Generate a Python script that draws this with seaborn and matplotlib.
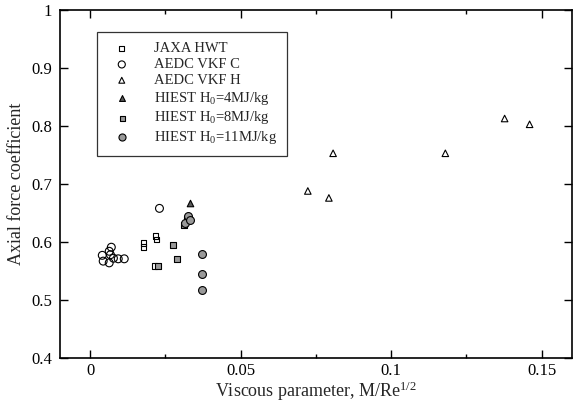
import matplotlib
matplotlib.use("Agg")
import matplotlib.pyplot as plt
import matplotlib.ticker as mticker
import seaborn as sns

# Wind-tunnel measurements: viscous parameter M/Re^(1/2) vs axial force coefficient
jaxa_x = [0.0177, 0.0177, 0.0217, 0.0220, 0.0213]
jaxa_y = [0.598, 0.591, 0.610, 0.604, 0.559]

vkf_c_x = [0.0040, 0.0043, 0.0063, 0.0067, 0.0070, 0.0063, 0.0077, 0.0093, 0.0113, 0.0230]
vkf_c_y = [0.577, 0.567, 0.564, 0.578, 0.591, 0.584, 0.572, 0.571, 0.571, 0.658]

vkf_h_x = [0.0723, 0.0793, 0.0807, 0.1180, 0.1377, 0.1460]
vkf_h_y = [0.688, 0.676, 0.753, 0.753, 0.813, 0.803]

hiest4_x = [0.0333]
hiest4_y = [0.668]

hiest8_x = [0.0225, 0.0275, 0.0287, 0.0310, 0.0322]
hiest8_y = [0.559, 0.595, 0.570, 0.630, 0.640]

hiest11_x = [0.0370, 0.0373, 0.0370, 0.0315, 0.0325, 0.0330]
hiest11_y = [0.579, 0.545, 0.517, 0.633, 0.645, 0.638]

labels = ["JAXA HWT", "AEDC VKF C", "AEDC VKF H",
          "HIEST H$_0$=4MJ/kg", "HIEST H$_0$=8MJ/kg", "HIEST H$_0$=11MJ/kg"]

sns.set_style("ticks")
plt.rcParams["font.family"] = ["Liberation Serif", "DejaVu Serif"]
plt.rcParams["mathtext.fontset"] = "custom"
plt.rcParams["mathtext.rm"] = "Liberation Serif"
plt.rcParams["mathtext.it"] = "Liberation Serif:italic"

fig = plt.figure(figsize=(5.84, 4.04), dpi=100)
ax = fig.add_axes([0.103, 0.114, 0.876, 0.861])

common = dict(ax=ax, linewidth=0.8, edgecolor="black", legend=True)
sns.scatterplot(x=jaxa_x, y=jaxa_y, marker="s", s=16, facecolor="none",
                label=labels[0], **common)
sns.scatterplot(x=vkf_c_x, y=vkf_c_y, marker="o", s=32, facecolor="none",
                label=labels[1], **common)
sns.scatterplot(x=vkf_h_x, y=vkf_h_y, marker="^", s=22, facecolor="none",
                label=labels[2], **common)
sns.scatterplot(x=hiest4_x, y=hiest4_y, marker="^", s=22, facecolor="0.35",
                label=labels[3], **common)
sns.scatterplot(x=hiest8_x, y=hiest8_y, marker="s", s=16, facecolor="0.6",
                label=labels[4], **common)
sns.scatterplot(x=hiest11_x, y=hiest11_y, marker="o", s=32, facecolor="0.6",
                label=labels[5], **common)

ax.set_xlim(-0.01, 0.16)
ax.set_ylim(0.4, 1.0)
ax.xaxis.set_major_locator(mticker.MultipleLocator(0.05))
ax.xaxis.set_minor_locator(mticker.MultipleLocator(0.025))
ax.yaxis.set_major_locator(mticker.MultipleLocator(0.1))
fmt = mticker.FuncFormatter(lambda v, p: "%g" % round(v, 4))
ax.xaxis.set_major_formatter(fmt)
ax.yaxis.set_major_formatter(fmt)
ax.tick_params(which="both", direction="in", top=True, right=True,
               labelsize=12, width=1.0, colors="black")
ax.tick_params(which="major", length=6)
ax.tick_params(axis="x", which="major", pad=4)
ax.tick_params(axis="y", which="major", pad=6)
ax.tick_params(which="minor", length=3)
for sp in ax.spines.values():
    sp.set_linewidth(1.2)
    sp.set_color("black")

ax.set_xlabel("Viscous parameter, M/Re$^{1/2}$", fontsize=13, labelpad=0)
ax.set_ylabel("Axial force coefficient", fontsize=13, labelpad=4)

leg = ax.legend(loc="upper left", bbox_to_anchor=(0.072, 0.937),
                borderaxespad=0, fontsize=10.5, frameon=True, fancybox=False,
                edgecolor="black", labelspacing=0.18, handletextpad=1.2,
                borderpad=0.7, handlelength=2.0, markerscale=0.9)
leg.get_frame().set_linewidth(0.9)

fig.savefig("out.png", dpi=100)
